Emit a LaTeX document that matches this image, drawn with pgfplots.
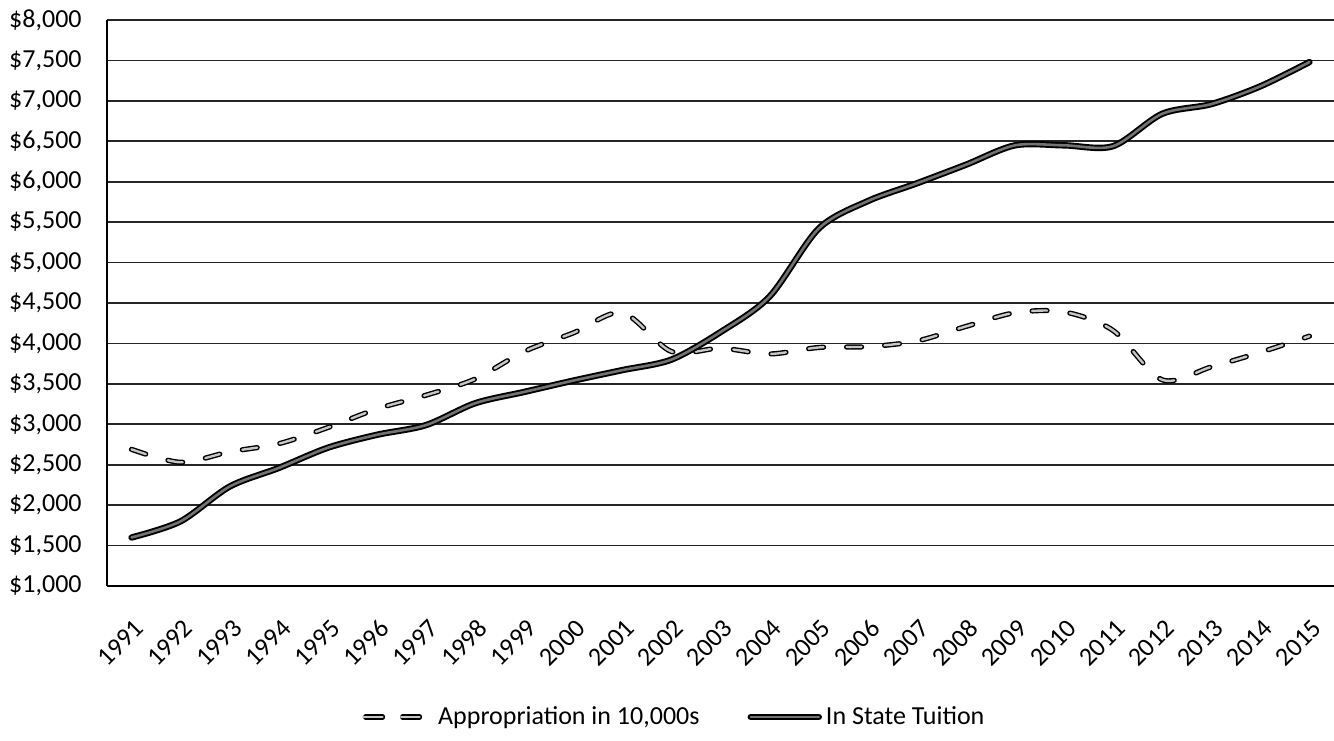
\documentclass[border=0pt]{standalone}
\usepackage{fontspec}
\setmainfont{Carlito}
\usepackage{pgfplots}
\pgfplotsset{compat=1.18}
\pgfplotstableread{
year val
1991 1600
1992 1800
1993 2230
1994 2460
1995 2710
1996 2870
1997 2990
1998 3260
1999 3400
2000 3540
2001 3670
2002 3800
2003 4140
2004 4580
2005 5420
2006 5760
2007 5980
2008 6210
2009 6450
2010 6450
2011 6440
2012 6840
2013 6960
2014 7180
2015 7480
}\tuition
\pgfplotstableread{
year val
1991 2690
1992 2530
1993 2660
1994 2760
1995 2960
1996 3190
1997 3360
1998 3560
1999 3900
2000 4130
2001 4380
2002 3900
2003 3940
2004 3870
2005 3950
2006 3960
2007 4030
2008 4210
2009 4380
2010 4390
2011 4160
2012 3550
2013 3710
2014 3890
2015 4090
}\approp
\begin{document}
\begin{tikzpicture}
\begin{axis}[
  at={(0,0)}, anchor=south west,
  scale only axis, width=613.5pt, height=283pt,
  font=\fontsize{13}{15}\selectfont,
  xmin=1990.5, xmax=2015.5, ymin=1000, ymax=8000,
  xtick={1991,1992,1993,1994,1995,1996,1997,1998,1999,2000,2001,2002,2003,2004,2005,2006,2007,2008,2009,2010,2011,2012,2013,2014,2015},
  xticklabels={1991,1992,1993,1994,1995,1996,1997,1998,1999,2000,2001,2002,2003,2004,2005,2006,2007,2008,2009,2010,2011,2012,2013,2014,2015},
  ytick={1000,1500,2000,2500,3000,3500,4000,4500,5000,5500,6000,6500,7000,7500,8000},
  yticklabels={{\$1,000},{\$1,500},{\$2,000},{\$2,500},{\$3,000},{\$3,500},{\$4,000},{\$4,500},{\$5,000},{\$5,500},{\$6,000},{\$6,500},{\$7,000},{\$7,500},{\$8,000}},
  axis x line*=bottom, axis y line*=left,
  axis line style={black, line width=0.8pt, -},
  major tick length=0pt,
  ymajorgrids, major grid style={black!85, line width=0.8pt},
  yticklabel style={inner sep=0pt, anchor=east, xshift=-12.5pt},
  xticklabel style={inner sep=0pt, xshift=4pt, yshift=-19pt, rotate=45, anchor=east},
  legend style={draw=none, at={(0.463,-0.2314)}, anchor=center, legend columns=2,
    font=\fontsize{13}{15}\selectfont,
    /tikz/every even column/.append style={column sep=22pt}},
  legend cell align=left,
]
\addplot[black, line width=2.6pt, line cap=round, dash pattern=on 7.5pt off 11.5pt, smooth, forget plot] table[x=year,y=val]{\approp};
\addplot[gray!45, line width=1.2pt, line cap=round, dash pattern=on 7.5pt off 11.5pt, smooth,
  legend image code/.code={
    \draw[black,line width=2.6pt,line cap=round,dash pattern=on 8.5pt off 10pt] (1.3pt,0pt)--(29pt,0pt);
    \draw[gray!45,line width=1.2pt,line cap=round,dash pattern=on 8.5pt off 10pt] (1.3pt,0pt)--(29pt,0pt);
    \path (0pt,0pt) -- (35pt,0pt);}
  ] table[x=year,y=val]{\approp};
\addlegendentry{Appropriation in 10,000s}
\addplot[black, line width=3.2pt, smooth, line join=round, line cap=round, forget plot] table[x=year,y=val]{\tuition};
\addplot[black!55, line width=1.3pt, smooth, line join=round, line cap=round,
  legend image code/.code={
    \draw[black,line width=3.2pt,line cap=round] (1pt,0pt)--(35pt,0pt);
    \draw[black!55,line width=1.3pt,line cap=round] (1pt,0pt)--(35pt,0pt);}
  ] table[x=year,y=val]{\tuition};
\addlegendentry{In State Tuition}
\end{axis}
\pgfresetboundingbox
\path[use as bounding box] (-53.5pt,-77pt) rectangle (613.5pt,293pt);
\end{tikzpicture}
\end{document}
